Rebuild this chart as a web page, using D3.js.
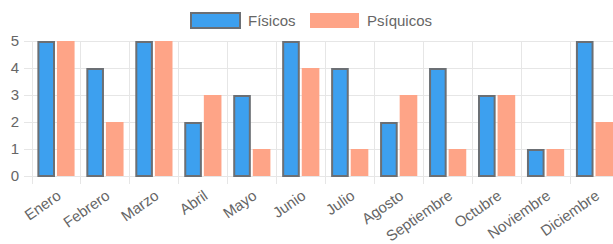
<!DOCTYPE html>
<html lang="es">
<head>
<meta charset="utf-8">
<title>Físicos / Psíquicos</title>
<script src="https://d3js.org/d3.v7.min.js"></script>
<style>
  body { margin: 0; background: #fff; }
  text { font-family: "Helvetica Neue", Helvetica, Arial, "Liberation Sans", sans-serif; fill: #666; }
</style>
</head>
<body>
<script>
// data
var meses = ["Enero", "Febrero", "Marzo", "Abril", "Mayo", "Junio", "Julio",
             "Agosto", "Septiembre", "Octubre", "Noviembre", "Diciembre"];
var series = ["Físicos", "Psíquicos"];
var fisicos = [5, 4, 5, 2, 3, 5, 4, 2, 4, 3, 1, 5];
var psiquicos = [5, 2, 5, 3, 1, 4, 1, 3, 1, 3, 1, 2];
var yTicks = [0, 1, 2, 3, 4, 5];

var w = 613, h = 244;
var fill = { "Físicos": "#3da0ef", "Psíquicos": "#fea487" };
var stroke = { "Físicos": "#6b6f74", "Psíquicos": "none" };

var svg = d3.select("body").append("svg")
  .attr("width", w).attr("height", h);

// scales (chart runs a little past the right edge, as in the picture)
var x = d3.scaleBand().domain(meses).range([31.5, 619]).padding(0);
var bw = x.bandwidth();
var x1 = d3.scaleBand().domain(series)
  .range([0.1 * bw, 0.9 * bw]).paddingInner(0.1).paddingOuter(0.05);
var y = d3.scaleLinear().domain([0, 5]).range([176, 41]);

// grid
var grid = svg.append("g");
grid.selectAll("line.h").data(yTicks).enter().append("line")
  .attr("x1", 24).attr("x2", 619)
  .attr("y1", function(d) { return y(d) + 0.5; })
  .attr("y2", function(d) { return y(d) + 0.5; })
  .attr("stroke", "#e6e6e6").attr("stroke-width", 1);
grid.selectAll("line.v").data(meses).enter().append("line")
  .attr("x1", function(d) { return Math.round(x(d)) + 0.5; })
  .attr("x2", function(d) { return Math.round(x(d)) + 0.5; })
  .attr("y1", y(5)).attr("y2", 184)
  .attr("stroke", "#e6e6e6").attr("stroke-width", 1);

// y labels
svg.selectAll("text.yl").data(yTicks).enter().append("text")
  .attr("x", 19).attr("y", function(d) { return y(d); })
  .attr("dy", "0.36em").attr("text-anchor", "end")
  .style("font-size", "15px")
  .text(function(d) { return d; });

// bars
var rows = meses.map(function(m, i) {
  return { mes: m, vals: [
    { s: "Físicos", v: fisicos[i] },
    { s: "Psíquicos", v: psiquicos[i] }
  ] };
});
var g = svg.selectAll("g.mes").data(rows).enter().append("g")
  .attr("transform", function(d) { return "translate(" + x(d.mes) + ",0)"; });
g.selectAll("rect").data(function(d) { return d.vals; }).enter().append("rect")
  .attr("x", function(d) { return x1(d.s) + (d.s == "Físicos" ? 1 : 0); })
  .attr("y", function(d) { return y(d.v) + (d.s == "Físicos" ? 1 : 0); })
  .attr("width", function(d) { return x1.bandwidth() - (d.s == "Físicos" ? 2 : 0); })
  .attr("height", function(d) { return y(0) - y(d.v) - (d.s == "Físicos" ? 1 : 0); })
  .attr("fill", function(d) { return fill[d.s]; })
  .attr("stroke", function(d) { return stroke[d.s]; })
  .attr("stroke-width", 2);

// x labels, rotated
svg.selectAll("text.xl").data(meses).enter().append("text")
  .attr("text-anchor", "end")
  .style("font-size", "15px")
  .attr("transform", function(d) {
    return "translate(" + (x(d) + bw / 2 + 6) + ",198) rotate(-35)";
  })
  .text(function(d) { return d; });

// legend
var leg = svg.append("g");
var legItems = [
  { s: "Físicos", bx: 190, tx: 248 },
  { s: "Psíquicos", bx: 310, tx: 367 }
];
leg.selectAll("rect").data(legItems).enter().append("rect")
  .attr("x", function(d) { return d.bx + (d.s == "Físicos" ? 1 : 0); })
  .attr("y", 13)
  .attr("width", 49).attr("height", 15)
  .attr("fill", function(d) { return fill[d.s]; })
  .attr("stroke", function(d) { return stroke[d.s]; })
  .attr("stroke-width", 2);
leg.selectAll("text").data(legItems).enter().append("text")
  .attr("x", function(d) { return d.tx; }).attr("y", 21)
  .attr("dy", "0.36em")
  .style("font-size", "15px")
  .text(function(d) { return d.s; });
</script>
</body>
</html>
